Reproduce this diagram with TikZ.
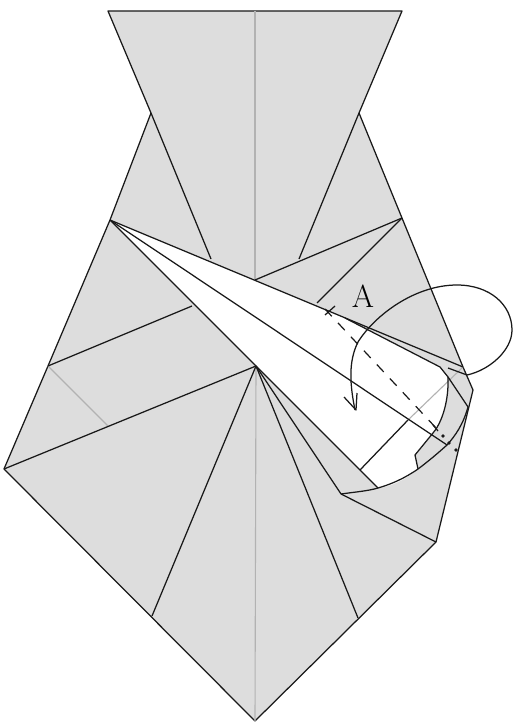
\documentclass[tikz,border=0pt]{standalone}
\usepackage{xcolor}
\usetikzlibrary{arrows.meta, positioning}
\definecolor{cPaper}{RGB}{221,221,221}
\definecolor{cFold}{RGB}{178,178,178}
\definecolor{cLine}{RGB}{25,25,25}
\tikzset{
  paperface/.style={fill=cPaper, draw=cLine, line width=1.25pt, line join=round},
  whiteface/.style={fill=white, draw=none},
  creaseline/.style={draw=cLine, line width=1.25pt},
  foldline/.style={draw=cFold, line width=1.1pt},
  moveline/.style={draw=cLine, line width=1.2pt, dash pattern=on 10pt off 9pt},
  turnarrow/.style={draw=cLine, line width=1.25pt, line join=round},
  spotnode/.style={circle, fill=cLine, inner sep=0pt, minimum size=3.6pt},
  lettertag/.style={font=\fontsize{32}{32}\selectfont, inner sep=0pt}
}

\begin{document}
\begin{tikzpicture}[x=1pt, y=-1pt]
  \useasboundingbox (0,0) rectangle (513,722);

  % Outline points
  \coordinate (topl) at (108,11);
  \coordinate (topr) at (402,11);
  \coordinate (topm) at (255,11);
  \coordinate (neckl) at (151,113);
  \coordinate (neckr) at (359,113);
  \coordinate (shl) at (110,220);
  \coordinate (midl) at (48,366);
  \coordinate (wingl) at (4,469);
  \coordinate (tip) at (255,721);
  \coordinate (wingr) at (436,542);
  \coordinate (flapr) at (473,390);
  \coordinate (corner) at (463,367);

  % Inner points
  \coordinate (kntop) at (211,259);
  \coordinate (kntopr) at (299,259);
  \coordinate (ctr) at (255,280);
  \coordinate (shr) at (402,218);
  \coordinate (hub) at (256,366);
  \coordinate (wedge) at (192,306);
  \coordinate (crease) at (108,426);
  \coordinate (dropl) at (152,616);
  \coordinate (dropr) at (358,618);
  \coordinate (foot) at (341,494);
  \coordinate (pleat) at (317,303);
  \coordinate (branch) at (345,318);
  \coordinate (edgeb) at (378,488);
  \coordinate (footw) at (360,470);
  \coordinate (meet) at (408,420);
  \coordinate (inner) at (447,445);
  \coordinate (bendt) at (448,377);
  \coordinate (flapb) at (468,407);
  \coordinate (nib) at (415,455);
  \coordinate (nibb) at (418,469);

  % Paper
  \path[paperface] (topl) -- (topr) -- (neckr) -- (corner) -- (flapr) -- (wingr)
      -- (tip) -- (wingl) -- (midl) -- (shl) -- (neckl) -- cycle;

  % White opening
  \path[whiteface] (shl) -- (branch) -- (440,367) -- (bendt)
      .. controls (449,405) and (440,425) .. (433,433) -- (nib) -- (nibb)
      .. controls (405,480) and (390,487) .. (edgeb) -- cycle;

  % Centre and cross folds
  \draw[foldline] (topm) -- (ctr);
  \draw[foldline] (hub) -- (tip);
  \draw[foldline] (midl) -- (crease);
  \draw[foldline] (meet) -- (corner);

  % Neck and upper folds
  \draw[creaseline] (neckl) -- (kntop);
  \draw[creaseline] (neckr) -- (kntopr);
  \draw[creaseline] (ctr) -- (shr);
  \draw[creaseline] (pleat) -- (shr);
  \draw[creaseline] (shl) -- (corner);
  \draw[creaseline] (shl) -- (inner);
  \draw[creaseline] (shl) -- (edgeb);
  \draw[creaseline] (midl) -- (wedge);
  \draw[creaseline] (footw) -- (meet);

  % Fan round the hub
  \draw[creaseline] (hub) -- (wingl);
  \draw[creaseline] (hub) -- (dropl);
  \draw[creaseline] (hub) -- (dropr);
  \draw[creaseline] (hub) -- (foot);
  \draw[creaseline] (foot) -- (wingr);

  % Folded flap
  \draw[creaseline] (branch) -- (440,367) -- (bendt)
      .. controls (449,405) and (440,425) .. (433,433) -- (nib) -- (nibb);
  \draw[creaseline] (bendt) -- (flapb);
  \draw[creaseline] (448,368) -- (467,375);

  % Hinge curve
  \draw[creaseline] (foot) .. controls (355,492) and (368,491) .. (edgeb)
      .. controls (392,484) and (405,478) .. (nibb)
      .. controls (430,460) and (438,453) .. (inner)
      .. controls (455,436) and (463,425) .. (flapb);

  % Movement
  \draw[moveline] (325,309) -- (437,429);
  \draw[creaseline] (325,315) -- (335,306);
  \draw[creaseline] (433,425) -- (438,431);
  \draw[turnarrow] (467,375) .. controls (490,370) and (512,350) .. (512,330)
      .. controls (512,305) and (490,285) .. (457,285)
      .. controls (415,285) and (375,315) .. (358,342)
      .. controls (348,362) and (350,385) .. (355,410);
  \draw[turnarrow] (344,397) -- (356,410) -- (357,393);

  % Marks
  \node[spotnode] (spota) at (443,436) {};
  \node[spotnode] (spotb) at (449,443) {};
  \node[spotnode] (spotc) at (456,450) {};

  % Label
  \node[lettertag] (labela) at (363,296) {A};
\end{tikzpicture}
\end{document}
